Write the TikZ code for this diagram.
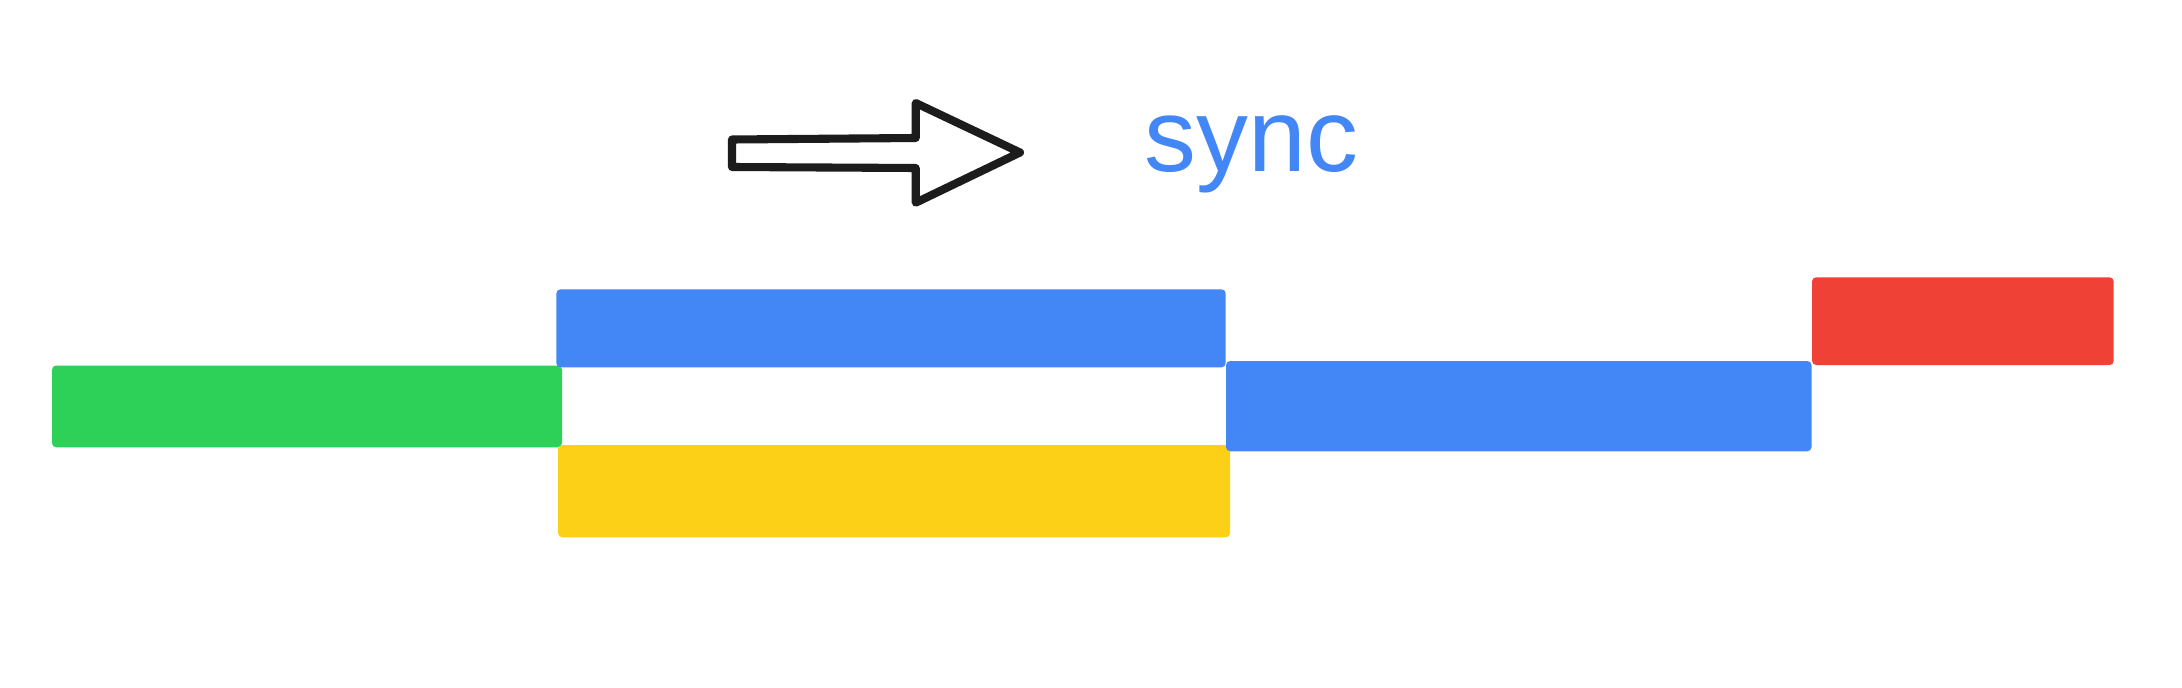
\documentclass[tikz,border=0pt]{standalone}
\usepackage{fontspec}
\setmainfont{Liberation Sans}
\definecolor{gblue}{RGB}{66,135,245}
\definecolor{ggreen}{RGB}{46,209,88}
\definecolor{gyellow}{RGB}{252,208,22}
\definecolor{gred}{RGB}{239,65,54}
\definecolor{ink}{RGB}{28,28,28}
\tikzset{
  bar/.style={draw=none, rounded corners=1.2pt, inner sep=0pt, outer sep=0pt},
  anchorpt/.style={inner sep=0pt, outer sep=0pt},
}
\begin{document}
\begin{tikzpicture}[x=0.01cm, y=-0.01cm]
\useasboundingbox[fill=white] (0,0) rectangle (2182,688);
% hollow arrow
\draw[ink, line width=2.3pt, line join=round, line cap=round]
  (732,139.5) -- (915.7,138) -- (915.7,103) -- (1020,152.5) -- (915.7,202.7) -- (915.7,168) -- (732,167) -- cycle;
\node[anchor=base west, text=gblue, font=\fontsize{29.5}{32}\selectfont, inner sep=0pt] (sync) at (1144,171.5) {sync};
% bars
\fill[bar, ggreen] (52,365.5) rectangle (562,447.3);
\node[anchorpt] (green) at (307,406) {};
\fill[bar, gblue] (556.3,289.3) rectangle (1225.7,367.3);
\node[anchorpt] (blueA) at (891,328) {};
\fill[bar, gyellow] (558,445) rectangle (1230,537.3);
\node[anchorpt] (yellow) at (894,491) {};
\fill[bar, gblue] (1226,361) rectangle (1811.5,451.3);
\node[anchorpt] (blueB) at (1518,406) {};
\fill[bar, gred] (1812,277.3) rectangle (2113.7,365);
\node[anchorpt] (red) at (1963,321) {};
\end{tikzpicture}
\end{document}
